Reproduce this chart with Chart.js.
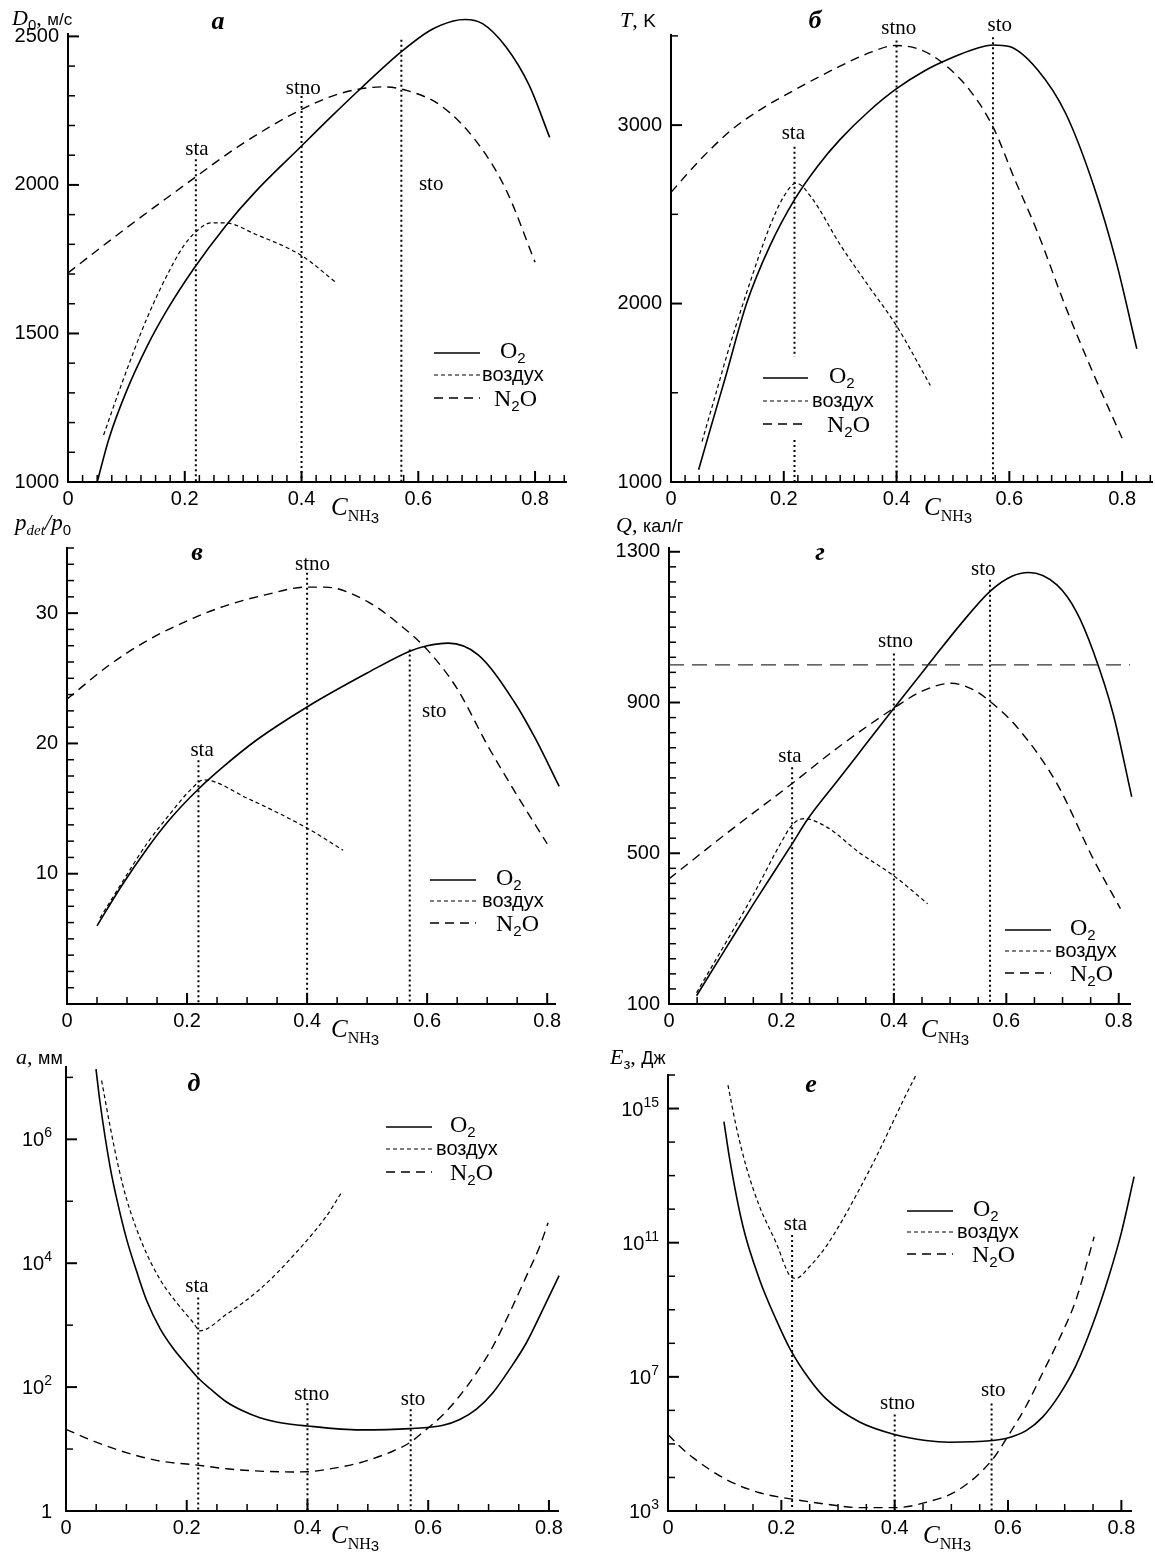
<!DOCTYPE html>
<html>
<head>
<meta charset="utf-8">
<script src="https://cdn.jsdelivr.net/npm/chart.js@4.4.0/dist/chart.umd.min.js"></script>
<style>
  body { margin: 0; background: #fff; width: 1155px; height: 1556px; position: relative; overflow: hidden; }
  canvas { position: absolute; }
</style>
</head>
<body>
<script>
// shared x data
const stX = [0.219, 0.4, 0.571];
const stNames = ["sta", "stno", "sto"];
const xLabels = [0, 0.2, 0.4, 0.6, 0.8];

// а: D0, м/с
const aO2X = [0.05, 0.07, 0.10, 0.135, 0.17, 0.215, 0.27, 0.32, 0.40, 0.45, 0.50, 0.57, 0.62, 0.66, 0.68, 0.71, 0.75, 0.79, 0.825];
const aO2Y = [1000, 1145, 1305, 1455, 1580, 1717, 1862, 1975, 2131, 2228, 2322, 2447, 2520, 2552, 2557, 2543, 2465, 2335, 2160];
const aAirX = [0.061, 0.09, 0.135, 0.18, 0.20, 0.219, 0.245, 0.27, 0.32, 0.40, 0.46];
const aAirY = [1158, 1320, 1550, 1735, 1800, 1842, 1872, 1872, 1835, 1762, 1670];
const aN2OX = [0, 0.1, 0.2, 0.3, 0.4, 0.47, 0.54, 0.58, 0.64, 0.70, 0.75, 0.80];
const aN2OY = [1704, 1855, 2000, 2140, 2254, 2310, 2330, 2318, 2265, 2145, 1985, 1740];
const aYTicks = [1000, 1500, 2000, 2500];
const aStY = [[2086, 1000], [2299, 1000], [2489, 1000]];
const aStLab = [[0.221, 2100], [0.403, 2306], [0.622, 1982]];

// б: T, K
const bO2X = [0.049, 0.07, 0.095, 0.134, 0.175, 0.219, 0.26, 0.30, 0.35, 0.40, 0.45, 0.50, 0.54, 0.571, 0.60, 0.65, 0.70, 0.75, 0.79, 0.826];
const bO2Y = [1069, 1300, 1570, 2000, 2320, 2582, 2770, 2920, 3075, 3204, 3305, 3380, 3428, 3449, 3440, 3310, 3065, 2656, 2228, 1747];
const bAirX = [0.055, 0.08, 0.10, 0.134, 0.175, 0.20, 0.222, 0.25, 0.30, 0.35, 0.40, 0.46];
const bAirY = [1227, 1500, 1720, 2060, 2430, 2600, 2675, 2590, 2330, 2100, 1875, 1541];
const bN2OX = [0, 0.05, 0.108, 0.16, 0.215, 0.29, 0.356, 0.398, 0.44, 0.48, 0.53, 0.571, 0.61, 0.65, 0.70, 0.75, 0.80];
const bN2OY = [2623, 2800, 2975, 3090, 3190, 3315, 3410, 3446, 3425, 3353, 3195, 2990, 2693, 2400, 1980, 1600, 1245];
const bYTicks = [1000, 2000, 3000];
const bStY = [[2879, 1701, null, 1236, 1000], [3474, 1000], [3493, 1000]];
const bStLab = [[0.217, 2920], [0.404, 3512], [0.583, 3530]];

// в: p_det/p_0
const vO2X = [0.05, 0.09, 0.133, 0.17, 0.219, 0.26, 0.317, 0.40, 0.50, 0.572, 0.60, 0.635, 0.685, 0.745, 0.78, 0.82];
const vO2Y = [6.0, 9.0, 11.9, 14.1, 16.5, 18.2, 20.3, 22.8, 25.4, 27.1, 27.5, 27.7, 26.8, 23.2, 20.4, 16.7];
const vAirX = [0.055, 0.09, 0.133, 0.17, 0.205, 0.228, 0.30, 0.40, 0.46];
const vAirY = [6.6, 9.2, 12.3, 14.5, 16.4, 17.2, 15.8, 13.5, 11.8];
const vN2OX = [0, 0.07, 0.13, 0.19, 0.26, 0.33, 0.40, 0.43, 0.50, 0.56, 0.60, 0.65, 0.70, 0.75, 0.80];
const vN2OY = [23.4, 26.0, 27.8, 29.2, 30.5, 31.4, 32.0, 32.0, 30.9, 28.9, 27.2, 24.2, 19.9, 16.0, 12.3];
const vYTicks = [10, 20, 30];
const vStY = [[18.7, 0], [33.1, 0], [27.2, 0]];
const vStLab = [[0.225, 19.0], [0.409, 33.3], [0.612, 22.0]];

// г: Q, кал/г
const gO2X = [0.049, 0.1, 0.15, 0.219, 0.246, 0.30, 0.35, 0.40, 0.46, 0.52, 0.571, 0.61, 0.64, 0.69, 0.725, 0.755, 0.79, 0.823];
const gO2Y = [122, 245, 365, 525, 589, 693, 789, 885, 998, 1110, 1195, 1235, 1245, 1212, 1140, 1034, 870, 650];
const gAirX = [0.049, 0.1, 0.15, 0.2, 0.219, 0.24, 0.28, 0.34, 0.40, 0.46];
const gAirY = [130, 260, 390, 530, 575, 592, 570, 500, 440, 366];
const gN2OX = [0, 0.1, 0.219, 0.30, 0.40, 0.45, 0.502, 0.54, 0.571, 0.62, 0.69, 0.755, 0.803];
const gN2OY = [432, 550, 685, 780, 885, 930, 951, 935, 903, 833, 685, 484, 353];
const gRefX = [0, 0.821];
const gRefY = [1000, 1000];
const gYTicks = [100, 500, 900, 1300];
const gStY = [[728, 100], [1030, 100], [1226, 100]];
const gStLab = [[0.215, 741], [0.403, 1047], [0.559, 1239]];

// д: a, мм (log)
const dO2X = [0.0497, 0.0563, 0.0728, 0.0866, 0.1004, 0.117, 0.1336, 0.1556, 0.1777, 0.1998, 0.218, 0.2384, 0.266, 0.2936, 0.3212, 0.3488, 0.3996, 0.4868, 0.5695, 0.6247, 0.6523, 0.68, 0.7075, 0.735, 0.7627, 0.79, 0.8168];
const dO2Y = [1.36e7, 4.0e6, 3.7e5, 8.5e4, 2.45e4, 7.4e3, 2.5e3, 8.9e2, 4.2e2, 2.3e2, 1.43e2, 95, 57.5, 41, 32, 27.4, 23.6, 20.4, 21.4, 24.2, 30, 44, 82, 1.95e2, 5.2e2, 1.8e3, 6.3e3];
const dAirX = [0.059, 0.0728, 0.0866, 0.1004, 0.128, 0.1556, 0.1832, 0.2108, 0.2219, 0.266, 0.3212, 0.3764, 0.4316, 0.4564];
const dAirY = [8.9e6, 1.66e6, 3.7e5, 1.08e5, 1.9e4, 5.5e3, 2.3e3, 1.1e3, 8.1e2, 1.5e3, 3.8e3, 1.32e4, 5.8e4, 1.39e5];
const dN2OX = [0, 0.045, 0.1, 0.156, 0.218, 0.266, 0.321, 0.376, 0.4, 0.432, 0.487, 0.514, 0.542, 0.5695, 0.597, 0.625, 0.652, 0.68, 0.7075, 0.735, 0.763, 0.785, 0.7986];
const dN2OY = [20.8, 13.5, 8.75, 6.4, 5.5, 4.8, 4.4, 4.27, 4.3, 4.7, 6.0, 7.3, 9.3, 12.7, 20.8, 36, 72, 1.7e2, 4.6e2, 1.6e3, 6.3e3, 1.9e4, 4.5e4];
const dYTicks = [1, 1e2, 1e4, 1e6];
const dStY = [[2.8e3, 1], [55, 1], [44, 1]];
const dStLab = [[0.217, 3.4e3], [0.407, 63], [0.575, 52]];

// е: E_з, Дж (log)
const eO2X = [0.0987, 0.1087, 0.132, 0.1616, 0.191, 0.216, 0.25, 0.279, 0.338, 0.40, 0.455, 0.4965, 0.573, 0.596, 0.632, 0.661, 0.69, 0.72, 0.749, 0.778, 0.80, 0.8225];
const eO2Y = [4.1e14, 3.2e13, 3.2e11, 7.9e9, 5.0e8, 6.5e7, 8.3e6, 2.2e6, 4.5e5, 1.9e5, 1.26e5, 1.12e5, 1.26e5, 1.45e5, 2.5e5, 6.3e5, 2.8e6, 2.2e7, 3.5e8, 1.0e10, 2.0e11, 9.3e12];
const eAirX = [0.1058, 0.1204, 0.138, 0.1616, 0.191, 0.216, 0.226, 0.25, 0.279, 0.308, 0.338, 0.367, 0.397, 0.42, 0.4377];
const eAirY = [5.0e15, 2.9e14, 1.86e13, 1.2e12, 9.8e10, 1.0e10, 8.7e9, 1.95e10, 7.8e10, 4.8e11, 4.0e12, 3.5e13, 4.0e14, 2.6e15, 1.0e16];
const eN2OX = [0, 0.0206, 0.044, 0.1028, 0.1616, 0.216, 0.279, 0.338, 0.4, 0.455, 0.514, 0.573, 0.596, 0.632, 0.661, 0.69, 0.72, 0.752];
const eN2OY = [1.9e5, 8.5e4, 3.9e4, 8.7e3, 3.5e3, 2.3e3, 1.6e3, 1.26e3, 1.26e3, 1.8e3, 4.4e3, 3.5e4, 1.35e5, 1.35e6, 1.3e7, 1.3e8, 2.0e9, 1.5e11];
const eYTicks = [1e3, 1e7, 1e11, 1e15];
const eStY = [[1.7e11, 1e3], [7.6e5, 1e3], [1.6e6, 1e3]];
const eStLab = [[0.225, 2.4e11], [0.405, 1.1e6], [0.574, 2.6e6]];

const SERIF = '"Liberation Serif", "DejaVu Serif", serif';
const SANS = '"Liberation Sans", Arial, sans-serif';
const YW = 70, XH = 60, PT = 40, PR = 12;

const cTitle = [["C", "italic 25px " + SERIF], ["NH", "16px " + SERIF, 6], ["3", "15px " + SANS, 8]];

const panels = [
  { id: "a", L: 68, T: 34, R: 566, B: 482, xMax: 0.853, yMin: 1000, yMax: 2508, yMinor: 100, xMinor: 0.025,
    yLabels: aYTicks, series: [[aO2X, aO2Y], [aAirX, aAirY], [aN2OX, aN2OY]], stY: aStY, stLab: aStLab,
    letter: "а", letterPos: [218, 29],
    title: [["D", "italic 22px " + SERIF], ["0", "15px " + SANS, 5], [", ", "22px " + SERIF], ["м/с", "17px " + SANS]],
    titlePos: [12, 25], cPos: [331, 515],
    legend: { x1: 434, x2: 480, ys: [353, 375, 398], tx: [500, 482, 494] } },
  { id: "b", L: 671, T: 35, R: 1152, B: 482, xMax: 0.853, yMin: 1000, yMax: 3505, yMinor: 500, xMinor: 0.025,
    yLabels: bYTicks, series: [[bO2X, bO2Y], [bAirX, bAirY], [bN2OX, bN2OY]], stY: bStY, stLab: bStLab,
    letter: "б", letterPos: [815, 28],
    title: [["T", "italic 22px " + SERIF], [", ", "22px " + SERIF], ["K", "19px " + SANS]],
    titlePos: [620, 27], cPos: [924, 515],
    legend: { x1: 763, x2: 808, ys: [378, 401, 424], tx: [829, 812, 827] } },
  { id: "v", L: 67, T: 548, R: 555, B: 1004, xMax: 0.813, yMin: 0, yMax: 35, yMinor: 1.25, xMinor: 0.05,
    yLabels: vYTicks, series: [[vO2X, vO2Y], [vAirX, vAirY], [vN2OX, vN2OY]], stY: vStY, stLab: vStLab,
    letter: "в", letterPos: [197, 560],
    title: [["p", "italic 23px " + SERIF], ["det", "italic 15px " + SERIF, 5], ["/p", "italic 23px " + SERIF], ["0", "15px " + SANS, 5]],
    titlePos: [15, 530], cPos: [331, 1037],
    legend: { x1: 430, x2: 476, ys: [880, 901, 923], tx: [496, 482, 496] } },
  { id: "g", L: 669, T: 548, R: 1130, B: 1004, xMax: 0.82, yMin: 100, yMax: 1310, yMinor: 40, xMinor: 0.05,
    yLabels: gYTicks, series: [[gO2X, gO2Y], [gAirX, gAirY], [gN2OX, gN2OY]], stY: gStY, stLab: gStLab,
    ref: [gRefX, gRefY],
    letter: "г", letterPos: [820, 560],
    title: [["Q", "italic 22px " + SERIF], [", ", "22px " + SERIF], ["кал/г", "18px " + SANS]],
    titlePos: [616, 532], cPos: [921, 1037],
    legend: { x1: 1005, x2: 1051, ys: [930, 951, 973], tx: [1070, 1055, 1070] } },
  { id: "d", L: 66, T: 1067, R: 558, B: 1511, xMax: 0.815, yMin: 1, yMax: 1.47e7, log: true, labGap: 14, xMinor: 0.05,
    yLabels: dYTicks, series: [[dO2X, dO2Y], [dAirX, dAirY], [dN2OX, dN2OY]], stY: dStY, stLab: dStLab,
    letter: "д", letterPos: [194, 1091],
    title: [["a", "italic 22px " + SERIF], [", ", "22px " + SERIF], ["мм", "18px " + SANS]],
    titlePos: [16, 1064], cPos: [331, 1543],
    legend: { x1: 386, x2: 432, ys: [1127, 1149, 1172], tx: [450, 436, 450] } },
  { id: "e", L: 668, T: 1075, R: 1131, B: 1511, xMax: 0.817, yMin: 1e3, yMax: 1e16, log: true, labGap: 9, xMinor: 0.05,
    yLabels: eYTicks, series: [[eO2X, eO2Y], [eAirX, eAirY], [eN2OX, eN2OY]], stY: eStY, stLab: eStLab,
    letter: "е", letterPos: [811, 1092],
    title: [["E", "italic 22px " + SERIF], ["з", "15px " + SANS, 5], [", ", "22px " + SERIF], ["Дж", "18px " + SANS]],
    titlePos: [610, 1064], cPos: [923, 1543],
    legend: { x1: 907, x2: 953, ys: [1211, 1232, 1254], tx: [973, 957, 972] } }
];

const lineStyles = [
  { dash: [], width: 1.6 },     // O2
  { dash: [4, 3], width: 1.2 }, // воздух
  { dash: [9, 6], width: 1.4 }  // N2O
];
const legendTexts = [
  [["O", "24px " + SERIF], ["2", "15px " + SANS, 5]],
  [["воздух", "20px " + SANS]],
  [["N", "24px " + SERIF], ["2", "15px " + SANS, 5], ["O", "24px " + SERIF]]
];
const legendDy = [5, 6, 8];

function rich(ctx, x, y, parts, align) {
  let w = 0;
  for (const p of parts) { ctx.font = p[1]; w += ctx.measureText(p[0]).width; }
  let cx = align === "center" ? x - w / 2 : align === "right" ? x - w : x;
  ctx.textAlign = "left";
  ctx.textBaseline = "alphabetic";
  for (const p of parts) {
    ctx.font = p[1];
    ctx.fillText(p[0], cx, y + (p[2] || 0));
    cx += ctx.measureText(p[0]).width;
  }
}

function seg(ctx, x1, y1, x2, y2, w) {
  ctx.lineWidth = w;
  ctx.beginPath();
  ctx.moveTo(x1, y1);
  ctx.lineTo(x2, y2);
  ctx.stroke();
}

function curve(xArr, yArr, style) {
  return {
    data: xArr.map((x, i) => ({ x: x, y: yArr[i] })),
    borderColor: "#000", borderWidth: style.width, borderDash: style.dash,
    pointRadius: 0, fill: false, cubicInterpolationMode: "monotone", clip: false
  };
}

function decoPlugin(p) {
  return {
    id: "deco" + p.id,
    afterDraw(chart) {
      const ctx = chart.ctx, xs = chart.scales.x, ys = chart.scales.y, ca = chart.chartArea;
      const ox = p.L - YW, oy = p.T - PT;
      ctx.save();
      ctx.strokeStyle = "#000";
      ctx.fillStyle = "#000";
      ctx.setLineDash([]);

      // x ticks, pointing inward
      for (let i = 0; i * p.xMinor <= p.xMax + 1e-9; i++) {
        const v = i * p.xMinor;
        const major = xLabels.some(t => Math.abs(t - v) < 1e-6);
        const px = xs.getPixelForValue(v);
        seg(ctx, px, ca.bottom, px, ca.bottom - (major ? 11 : 7), major ? 2 : 1.5);
      }
      // y ticks
      const yt = [];
      if (p.log) {
        for (let v = p.yMin; v <= p.yMax * 1.0001; v *= 10) yt.push(v);
      } else {
        for (let i = 0; p.yMin + i * p.yMinor <= p.yMax + 1e-9; i++) yt.push(p.yMin + i * p.yMinor);
      }
      yt.forEach(v => {
        const major = p.yLabels.some(t => Math.abs(t - v) < 1e-6 * Math.max(1, t));
        const py = ys.getPixelForValue(v);
        seg(ctx, ca.left, py, ca.left + (major ? 11 : 7), py, major ? 2 : 1.5);
      });
      // log tick labels
      if (p.log) {
        p.yLabels.forEach(v => {
          const py = ys.getPixelForValue(v);
          const e = Math.round(Math.log10(v));
          const parts = e === 0 ? [["1", "20px " + SANS]] : [["10", "20px " + SANS], [String(e), "14px " + SANS, -9]];
          rich(ctx, ca.left - p.labGap, py + 7, parts, "right");
        });
      }

      // stoichiometric labels
      p.stLab.forEach((pos, i) => {
        rich(ctx, xs.getPixelForValue(pos[0]), ys.getPixelForValue(pos[1]), [[stNames[i], "21px " + SERIF]], "center");
      });

      // titles
      rich(ctx, p.titlePos[0] - ox, p.titlePos[1] - oy, p.title);
      rich(ctx, p.cPos[0] - ox, p.cPos[1] - oy, cTitle);
      rich(ctx, p.letterPos[0] - ox, p.letterPos[1] - oy, [[p.letter, "bold italic 26px " + SERIF]], "center");

      // legend
      const lg = p.legend;
      lg.ys.forEach((y, i) => {
        ctx.setLineDash(lineStyles[i].dash);
        seg(ctx, lg.x1 - ox, y - oy, lg.x2 - ox, y - oy, lineStyles[i].width);
        ctx.setLineDash([]);
        rich(ctx, lg.tx[i] - ox, y - oy + legendDy[i], legendTexts[i]);
      });
      ctx.restore();
    }
  };
}

panels.forEach(p => {
  const c = document.createElement("canvas");
  const w = p.R - p.L + YW + PR, h = p.B - p.T + PT + XH;
  c.width = w; c.height = h;
  c.style.left = (p.L - YW) + "px";
  c.style.top = (p.T - PT) + "px";
  c.style.width = w + "px";
  c.style.height = h + "px";
  document.body.appendChild(c);

  const datasets = [];
  p.stY.forEach((ys, i) => {
    datasets.push({
      data: ys.map(y => ({ x: stX[i], y: y })),
      borderColor: "#000", borderWidth: 2, borderDash: [2, 3],
      pointRadius: 0, fill: false, tension: 0, spanGaps: false, clip: false
    });
  });
  if (p.ref) {
    datasets.push({
      data: p.ref[0].map((x, i) => ({ x: x, y: p.ref[1][i] })),
      borderColor: "#333", borderWidth: 1.4, borderDash: [15, 8],
      pointRadius: 0, fill: false, tension: 0
    });
  }
  p.series.forEach((s, i) => datasets.push(curve(s[0], s[1], lineStyles[i])));

  new Chart(c, {
    type: "line",
    data: { datasets: datasets },
    options: {
      responsive: false,
      animation: false,
      devicePixelRatio: 1,
      layout: { padding: { top: PT, right: PR, left: 0, bottom: 0 } },
      plugins: { legend: { display: false }, tooltip: { enabled: false } },
      scales: {
        x: {
          type: "linear", min: 0, max: p.xMax,
          afterBuildTicks: s => { s.ticks = xLabels.map(v => ({ value: v })); },
          afterFit: s => { s.height = XH; },
          grid: { display: false, drawTicks: false },
          border: { display: true, color: "#000", width: 2 },
          ticks: { color: "#000", font: { family: "Liberation Sans", size: 20 }, padding: 5,
                   maxRotation: 0, autoSkip: false, callback: v => String(v) }
        },
        y: {
          type: p.log ? "logarithmic" : "linear", min: p.yMin, max: p.yMax,
          afterBuildTicks: s => { s.ticks = p.yLabels.map(v => ({ value: v })); },
          afterFit: s => { s.width = YW; },
          grid: { display: false, drawTicks: false },
          border: { display: true, color: "#000", width: 2 },
          ticks: { display: !p.log, color: "#000", font: { family: "Liberation Sans", size: 20 }, padding: 9,
                   autoSkip: false, callback: v => String(v) }
        }
      }
    },
    plugins: [decoPlugin(p)]
  });
});
</script>
</body>
</html>
